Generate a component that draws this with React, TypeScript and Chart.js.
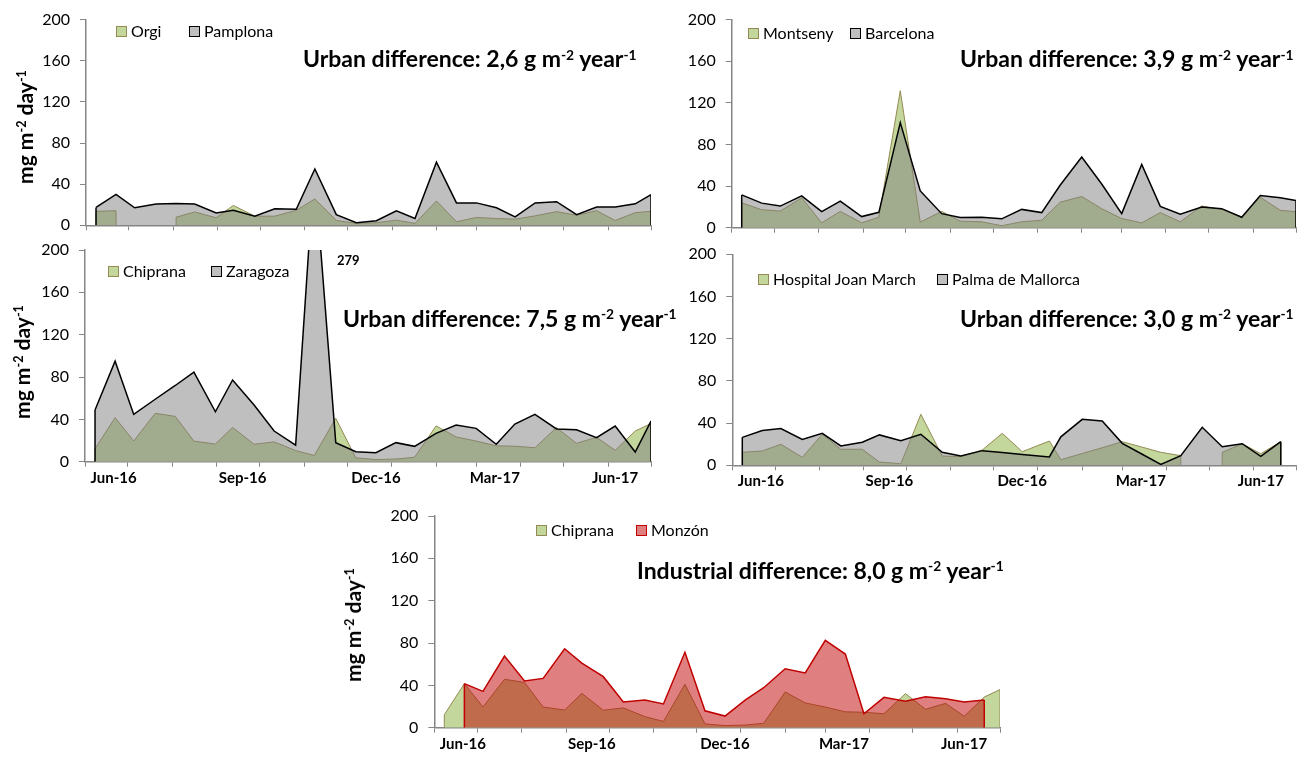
import React, { useEffect, useRef } from "react";
import { Chart, registerables } from "chart.js";

Chart.register(...registerables);

// ---------------- data ----------------
const sampleDates = [
  "2016-06-08", "2016-06-22", "2016-07-05", "2016-07-20", "2016-08-03", "2016-08-16",
  "2016-08-31", "2016-09-12", "2016-09-27", "2016-10-11", "2016-10-26", "2016-11-08",
  "2016-11-23", "2016-12-07", "2016-12-21", "2017-01-04", "2017-01-17", "2017-02-01",
  "2017-02-15", "2017-03-01", "2017-03-15", "2017-03-28", "2017-04-11", "2017-04-26",
  "2017-05-10", "2017-05-24", "2017-06-06", "2017-06-20", "2017-07-01",
];
const palmaDates = [
  "2016-06-08", "2016-06-22", "2016-07-05", "2016-07-20", "2016-08-03", "2016-08-16",
  "2016-08-31", "2016-09-12", "2016-09-27", "2016-10-11", "2016-10-26", "2016-11-08",
  "2016-11-23", "2016-12-07", "2016-12-21", "2017-01-09", "2017-01-17", "2017-02-01",
  "2017-02-15", "2017-03-01", "2017-03-15", "2017-03-28", "2017-04-11", "2017-04-26",
  "2017-05-10", "2017-05-24", "2017-06-06", "2017-06-20", "2017-07-01",
];

const orgi = [13.6, 14.2, null, null, 7.9, 13, 7.3, 19.3, 8.9, 8.9, 14.6, 25.6, 4.7, 1.9, 2.5, 5, 1.9, 23.7, 3.5, 7.6, 6.6, 6, 9.2, 13.3, 9.8, 14.2, 4.7, 12.3, 13.6];
const pamplona = [17.4, 30, 17, 20.6, 21.2, 20.6, 12, 14.6, 8.9, 16, 15.5, 54.7, 10.4, 2.5, 4.4, 14, 6.6, 61.4, 21.8, 21.8, 17, 8.2, 21.8, 23, 10.4, 17.7, 17.7, 20.9, 29.7];
const montseny = [23.9, 17.3, 16, 28.7, 4.7, 15.7, 4.7, 10, 131.7, 5.4, 15.7, 6.3, 5.7, 1.9, 5.7, 7.2, 24.6, 30, 18.3, 8.8, 4.7, 14.5, 5.7, 20.8, 17.6, 10.4, 29.3, 16.7, 15.4];
const barcelona = [31.5, 23.6, 20.8, 30.6, 15.4, 25.5, 10.7, 14.8, 101, 35.3, 13.5, 9.8, 10, 8.5, 17.6, 14.5, 41, 68, 42, 13.5, 60.8, 20.5, 12.9, 19.8, 18.3, 10, 30.9, 28.7, 26.1];
const chiprana = [12.3, 41.6, 19.6, 45.7, 42.8, 19.5, 16.7, 32.4, 16.5, 18.7, 10.5, 5.9, 41, 3.6, 2.0, 2.5, 4.2, 33.8, 23.4, 19.5, 15, 14.6, 13.2, 32.2, 17.4, 23, 10.8, 29, 36];
const zaragoza = [48.8, 95, 44.7, 59, 72, 84.7, 47.2, 77.2, 53.5, 29, 15.7, 279, 18, 9.4, 8.5, 18, 14.5, 26.8, 34.6, 31.5, 16.4, 35.6, 44.7, 30.9, 30.2, 22.7, 33.7, 9.1, 38.4];
const hospitalJoanMarch = [12.3, 13.6, 19.9, 7.6, 29.4, 15.2, 15.2, 3.1, 1.5, 48.3, 8.8, 8.2, 14.5, 30.3, 12.9, 23, 5.3, 11.2, 16.7, 22.4, 17.2, 12.3, 9.1, null, 12.3, 20.5, 11, 22.4, null];
const palma = [26.5, 32.9, 34.8, 24.6, 30.3, 18.3, 21.8, 28.8, 23.4, 29.4, 12.3, 8.8, 13.9, 12.1, 10.3, 7.9, 27, 43.6, 42, 20.8, 10.5, 0.9, 9.1, 36, 17.6, 20.5, 8.5, 22.4, null];
const monzon = [null, 41.6, 34.3, 67.7, 44.1, 46.6, 74.6, 61.1, 48.2, 24.3, 26.1, 22.4, 71.2, 16, 11, 26, 37.8, 55.7, 51.7, 82.5, 69.6, 13.2, 28.7, 24.9, 29.3, 27.4, 24.3, 26.1, null];

const monthTicks = [
  "2016-06-01", "2016-07-01", "2016-08-01", "2016-09-01", "2016-10-01", "2016-11-01",
  "2016-12-01", "2017-01-01", "2017-02-01", "2017-03-01", "2017-04-01", "2017-05-01",
  "2017-06-01", "2017-07-01",
];
const xTickLabels = ["Jun-16", "Sep-16", "Dec-16", "Mar-17", "Jun-17"];
const xTickLabelDates = ["2016-06-21", "2016-09-19", "2016-12-21", "2017-03-14", "2017-06-06"];
const yTicks = [0, 40, 80, 120, 160, 200];
const urbanDifferences = ["2,6", "3,9", "7,5", "3,0"];
const industrialDifference = "8,0";
const peakLabel = "279";

// ---------------- styles ----------------
const W = 1300;
const H = 757;
const Y_W = 60;
const X_H = 32;
const FONT = "Lato, 'Open Sans', 'DejaVu Sans', sans-serif";
const AXIS = "#868686";
const GREEN_FILL = "#C3D69B";
const GREEN_LINE = "#948A54";
const GREY_FILL = "rgba(128,128,128,0.5)";
const GREY_BOX = "#BFBFBF";
const RED_FILL = "rgba(192,0,0,0.5)";
const RED_LINE = "#C00000";
const RED_BOX = "#DF7F7F";
const TITLE_SIZE = 23;
const LEGEND_SIZE = 16;
const TICK_SIZE = 16;

const ORIGIN = Date.UTC(2016, 5, 1);
const toDay = (s: string) => {
  const [y, m, d] = s.split("-").map(Number);
  return Math.round((Date.UTC(y, m - 1, d) - ORIGIN) / 86400000);
};
const X_MAX = toDay("2017-07-01");

type Series = {
  label: string;
  dates: string[];
  values: (number | null)[];
  fill: string;
  line: string;
  width: number;
  box: string;
};

type Panel = {
  id: string;
  area: [number, number, number, number]; // l, t, r, b (page px)
  xLabels: boolean;
  base: Series;
  top: Series;
  legendX: [number, number];
  legendY: number;
  title: { x: number; baseline: number; kind: string; value: string };
  yTitle?: { cx: number; cy: number };
};

const green = (label: string, dates: string[], values: (number | null)[]): Series => ({
  label, dates, values, fill: GREEN_FILL, line: GREEN_LINE, width: 1, box: GREEN_FILL,
});
const grey = (label: string, dates: string[], values: (number | null)[]): Series => ({
  label, dates, values, fill: GREY_FILL, line: "#000000", width: 1.5, box: GREY_BOX,
});

const panels: Panel[] = [
  {
    id: "p1", area: [86, 14.7, 651, 225.3], xLabels: false,
    base: green("Orgi", sampleDates, orgi), top: grey("Pamplona", sampleDates, pamplona),
    legendX: [116, 189], legendY: 30.5,
    title: { x: 303, baseline: 67.5, kind: "Urban", value: urbanDifferences[0] },
    yTitle: { cx: 27, cy: 127 },
  },
  {
    id: "p2", area: [731.7, 16, 1296, 227.7], xLabels: false,
    base: green("Montseny", sampleDates, montseny), top: grey("Barcelona", sampleDates, barcelona),
    legendX: [748, 850], legendY: 32.5,
    title: { x: 960, baseline: 67.5, kind: "Urban", value: urbanDifferences[1] },
  },
  {
    id: "p3", area: [85, 250, 651, 461.7], xLabels: true,
    base: green("Chiprana", sampleDates, chiprana), top: grey("Zaragoza", sampleDates, zaragoza),
    legendX: [108, 211], legendY: 270.8,
    title: { x: 343, baseline: 327, kind: "Urban", value: urbanDifferences[2] },
    yTitle: { cx: 24, cy: 362 },
  },
  {
    id: "p4", area: [732.3, 254.3, 1296.5, 465.3], xLabels: true,
    base: green("Hospital Joan March", palmaDates, hospitalJoanMarch),
    top: grey("Palma de Mallorca", palmaDates, palma),
    legendX: [758, 937], legendY: 279,
    title: { x: 960, baseline: 327, kind: "Urban", value: urbanDifferences[3] },
  },
  {
    id: "p5", area: [434.3, 516, 1000, 727.7], xLabels: true,
    base: green("Chiprana", sampleDates, chiprana),
    top: { label: "Monzón", dates: sampleDates, values: monzon, fill: RED_FILL, line: RED_LINE, width: 1.5, box: RED_BOX },
    legendX: [536, 636], legendY: 529.5,
    title: { x: 637, baseline: 579, kind: "Industrial", value: industrialDifference },
    yTitle: { cx: 355, cy: 625 },
  },
];

// draws the vertical sides of each filled area at segment ends
const edgePlugin = {
  id: "areaEdges",
  afterDatasetDraw(chart: any, args: any) {
    const ds = chart.data.datasets[args.index];
    const pts = args.meta.data;
    const area = chart.chartArea;
    const y0 = chart.scales.y.getPixelForValue(0);
    const ctx = chart.ctx;
    ctx.save();
    ctx.beginPath();
    ctx.rect(area.left, area.top, area.right - area.left, area.bottom - area.top);
    ctx.clip();
    ctx.strokeStyle = ds.borderColor;
    ctx.lineWidth = ds.borderWidth;
    const vals = ds.data;
    for (let i = 0; i < vals.length; i++) {
      if (vals[i].y == null) continue;
      const prev = i > 0 ? vals[i - 1].y : null;
      const next = i < vals.length - 1 ? vals[i + 1].y : null;
      if (prev == null || next == null) {
        const p = pts[i];
        ctx.beginPath();
        ctx.moveTo(p.x, p.y);
        ctx.lineTo(p.x, y0);
        ctx.stroke();
      }
    }
    ctx.restore();
  },
};

function PanelChart({ p }: { p: Panel }) {
  const ref = useRef<HTMLCanvasElement>(null);
  useEffect(() => {
    const [l, t, r, b] = p.area;
    const labelMap = new Map<number, string>();
    if (p.xLabels) xTickLabelDates.forEach((d, i) => labelMap.set(toDay(d), xTickLabels[i]));
    const toDataset = (s: Series) => ({
      label: s.label,
      data: s.dates.map((d, i) => ({ x: toDay(d), y: s.values[i] })),
      backgroundColor: s.fill,
      borderColor: s.line,
      borderWidth: s.width,
      fill: "origin",
      pointRadius: 0,
      pointHoverRadius: 0,
      tension: 0,
      spanGaps: false,
    });
    const chart = new Chart(ref.current as HTMLCanvasElement, {
      type: "line",
      data: { datasets: [toDataset(p.top), toDataset(p.base)] as any },
      options: {
        animation: false,
        responsive: false,
        events: [],
        layout: { padding: { left: l - Y_W, top: t, right: W - r, bottom: H - b - X_H } },
        plugins: { legend: { display: false }, tooltip: { enabled: false }, title: { display: false } },
        scales: {
          x: {
            type: "linear",
            min: 0,
            max: X_MAX,
            z: 1,
            afterBuildTicks: (s: any) => {
              const ticks = monthTicks.map((d) => ({ value: toDay(d) }));
              labelMap.forEach((_v, k) => ticks.push({ value: k }));
              ticks.sort((a, c) => a.value - c.value);
              s.ticks = ticks;
            },
            afterFit: (s: any) => { s.height = X_H; },
            grid: {
              display: true,
              drawOnChartArea: false,
              drawTicks: true,
              tickLength: 5,
              color: AXIS,
              tickColor: (c: any) => (c.tick && labelMap.has(c.tick.value) ? "rgba(0,0,0,0)" : AXIS),
              lineWidth: 1,
            },
            border: { display: true, color: AXIS, width: 1.5 },
            ticks: {
              autoSkip: false,
              maxRotation: 0,
              minRotation: 0,
              padding: 2,
              color: "#000",
              font: { family: FONT, size: 15, weight: "bold" },
              callback: (v: any) => labelMap.get(v) ?? "",
            },
          },
          y: {
            min: 0,
            max: 200,
            afterBuildTicks: (s: any) => { s.ticks = yTicks.map((v) => ({ value: v })); },
            afterFit: (s: any) => { s.width = Y_W; },
            grid: { display: true, drawOnChartArea: false, drawTicks: true, tickLength: 6, color: AXIS, lineWidth: 1 },
            border: { display: true, color: AXIS, width: 1.5 },
            ticks: { padding: 10, color: "#000", font: { family: FONT, size: TICK_SIZE } },
          },
        },
      } as any,
      plugins: [edgePlugin],
    });
    return () => chart.destroy();
  }, [p]);
  return (
    <canvas
      ref={ref}
      width={W}
      height={H}
      style={{ position: "absolute", left: 0, top: 0, width: W, height: H, pointerEvents: "none" }}
    />
  );
}

function Sup({ children }: { children: React.ReactNode }) {
  return (
    <span style={{ fontSize: "0.6em", position: "relative", top: "-0.55em", verticalAlign: "baseline" }}>
      {children}
    </span>
  );
}

function Title({ x, baseline, kind, value }: { x: number; baseline: number; kind: string; value: string }) {
  const size = TITLE_SIZE;
  return (
    <div
      style={{
        position: "absolute", left: x, top: baseline - 0.887 * size, whiteSpace: "nowrap",
        fontFamily: FONT, fontSize: size, fontWeight: 700, lineHeight: `${size}px`, color: "#000",
      }}
    >
      {kind} difference: {value} g m<Sup>-2</Sup> year<Sup>-1</Sup>
    </div>
  );
}

function YTitle({ cx, cy }: { cx: number; cy: number }) {
  return (
    <div style={{ position: "absolute", left: cx, top: cy, width: 0, height: 0 }}>
      <div
        style={{
          position: "absolute", left: 0, top: 0, whiteSpace: "nowrap",
          transform: "translate(-50%, -50%) rotate(-90deg)",
          fontFamily: FONT, fontSize: 21, fontWeight: 700, lineHeight: "24px", color: "#000",
        }}
      >
        mg m<Sup>-2</Sup> day<Sup>-1</Sup>
      </div>
    </div>
  );
}

function Legend({ p }: { p: Panel }) {
  return (
    <>
      {[p.base, p.top].map((s, i) => (
        <React.Fragment key={i}>
          <div
            style={{
              position: "absolute", left: p.legendX[i], top: p.legendY - 5, width: 11, height: 11,
              boxSizing: "border-box", background: s.box, border: `1px solid ${s.line}`,
            }}
          />
          <div
            style={{
              position: "absolute", left: p.legendX[i] + 15, top: p.legendY - 10, height: 20,
              fontFamily: FONT, fontSize: LEGEND_SIZE, lineHeight: "20px", color: "#000", whiteSpace: "nowrap",
            }}
          >
            {s.label}
          </div>
        </React.Fragment>
      ))}
    </>
  );
}

export default function App() {
  return (
    <div
      style={{
        position: "absolute", left: 0, top: 0, width: W, height: H, overflow: "hidden",
        background: "#fff", fontFamily: FONT,
      }}
    >
      {panels.map((p) => (
        <PanelChart key={p.id} p={p} />
      ))}
      {panels.map((p) => (
        <React.Fragment key={p.id + "-txt"}>
          <Legend p={p} />
          <Title {...p.title} />
          {p.yTitle && <YTitle {...p.yTitle} />}
        </React.Fragment>
      ))}
      <div
        style={{
          position: "absolute", left: 337, top: 266 - 0.887 * 13, fontFamily: FONT, fontSize: 13,
          fontWeight: 700, lineHeight: "13px", color: "#000",
        }}
      >
        {peakLabel}
      </div>
    </div>
  );
}
